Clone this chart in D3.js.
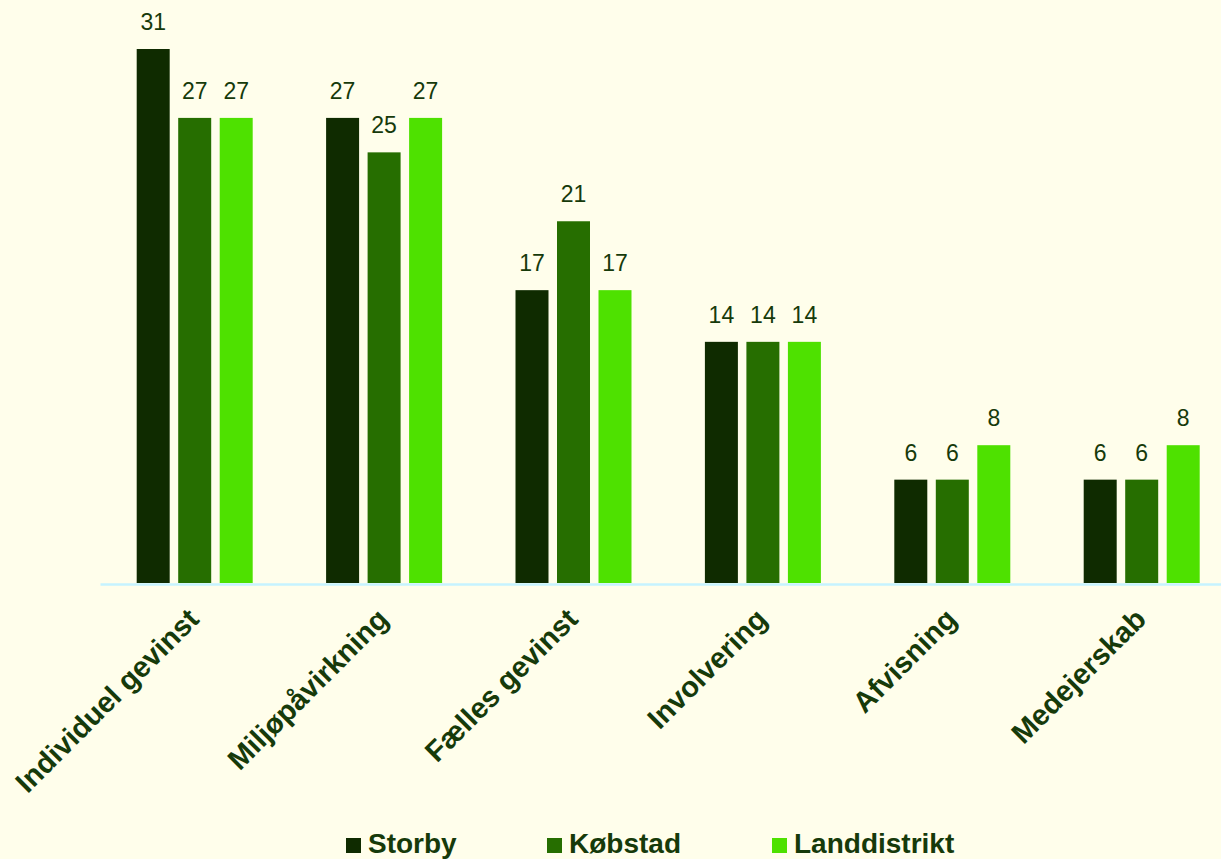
<!DOCTYPE html>
<html>
<head>
<meta charset="utf-8">
<script src="https://cdn.jsdelivr.net/npm/d3@7"></script>
<style>
  html, body { margin: 0; padding: 0; background: #fffeeb; }
  svg { display: block; }
  text { font-family: "Liberation Sans", Arial, sans-serif; fill: #163a0a; }
</style>
</head>
<body>
<svg id="chart" width="1221" height="859"></svg>
<script>
const categories = ["Individuel gevinst", "Miljøpåvirkning", "Fælles gevinst", "Involvering", "Afvisning", "Medejerskab"];
const seriesNames = ["Storby", "Købstad", "Landdistrikt"];
const storby = [31, 27, 17, 14, 6, 6];
const kobstad = [27, 25, 21, 14, 6, 6];
const landdistrikt = [27, 27, 17, 14, 8, 8];
const colors = ["#0f2b00", "#266e00", "#4ee100"];

const seriesValues = [storby, kobstad, landdistrikt];

const svg = d3.select("#chart");
const width = 1221, height = 859;
const baseY = 583;

svg.append("rect").attr("width", width).attr("height", height).attr("fill", "#fffeeb");

// scales
let x0 = d3.scaleBand()
  .domain(categories)
  .range([100, 1236.4])
  .padding(0);

let groupW = 116;
let x1 = d3.scaleBand()
  .domain(seriesNames)
  .range([0, groupW])
  .paddingInner(0.205)
  .paddingOuter(0);

let y = d3.scaleLinear()
  .domain([0, 31])
  .range([baseY, 49]);

let rows = [];
categories.forEach((c, i) => {
  seriesNames.forEach((s, j) => {
    rows.push({ cat: c, series: s, value: seriesValues[j][i], color: colors[j] });
  });
});

let groupOffset = (x0.bandwidth() - groupW) / 2;

// bars
svg.append("g")
  .selectAll("rect")
  .data(rows)
  .join("rect")
  .attr("x", d => x0(d.cat) + groupOffset + x1(d.series))
  .attr("y", d => y(d.value))
  .attr("width", x1.bandwidth())
  .attr("height", d => y(0) - y(d.value))
  .attr("fill", d => d.color);

// value labels
svg.append("g")
  .selectAll("text")
  .data(rows)
  .join("text")
  .attr("x", d => x0(d.cat) + groupOffset + x1(d.series) + x1.bandwidth() / 2)
  .attr("y", d => y(d.value) - 19)
  .attr("text-anchor", "middle")
  .style("font-size", "23px")
  .text(d => d.value);

// axis line
let xAxis = g => g
  .attr("transform", `translate(0,${baseY + 1})`)
  .call(d3.axisBottom(x0).tickSize(0).tickFormat(""))
  .call(g => g.select(".domain").attr("stroke", "#c6f3ff").attr("stroke-width", 2.5));
svg.append("g").call(xAxis);

// category labels
svg.append("g")
  .selectAll("text")
  .data(categories)
  .join("text")
  .attr("transform", d => `translate(${x0(d) + x0.bandwidth() / 2 + 6},621) rotate(-45)`)
  .attr("text-anchor", "end")
  .style("font-size", "29px")
  .style("font-weight", "bold")
  .text(d => d);

// legend
const legendX = [346, 547, 772];
let legend = svg.append("g")
  .selectAll("g")
  .data(seriesNames)
  .join("g")
  .attr("transform", (d, i) => `translate(${legendX[i]},0)`);
legend.append("rect")
  .attr("x", 0).attr("y", 838)
  .attr("width", 15).attr("height", 15)
  .attr("fill", (d, i) => colors[i]);
legend.append("text")
  .attr("x", 22).attr("y", 853)
  .style("font-size", "28px")
  .style("font-weight", "bold")
  .text(d => d);
</script>
</body>
</html>
